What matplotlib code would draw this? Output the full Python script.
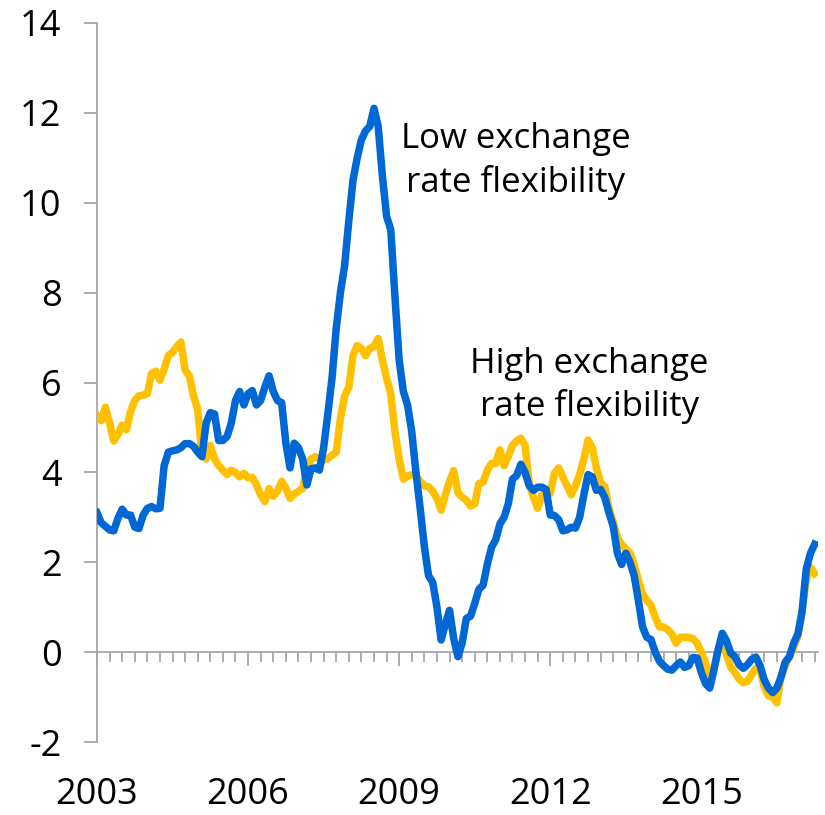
import matplotlib.pyplot as plt
import numpy as np

plt.rcParams['font.family'] = ['Open Sans', 'DejaVu Sans']
plt.rcParams['axes.unicode_minus'] = False

# Monthly data, Jan 2003 onwards
start_year = 2003

low_flex = [
    3.10, 2.88, 2.80, 2.72, 2.70, 2.98, 3.18, 3.05, 3.05, 2.78, 2.75, 3.05,
    3.20, 3.24, 3.19, 3.20, 4.15, 4.45, 4.48, 4.50, 4.55, 4.64, 4.64, 4.58,
    4.45, 4.35, 5.10, 5.33, 5.30, 4.71, 4.71, 4.80, 5.10, 5.60, 5.80, 5.50,
    5.75, 5.82, 5.50, 5.60, 5.90, 6.15, 5.80, 5.60, 5.55, 4.65, 4.10, 4.65,
    4.55, 4.30, 3.72, 4.08, 4.10, 4.05, 4.55, 5.30, 6.10, 7.20, 8.00, 8.60,
    9.60, 10.50, 11.00, 11.40, 11.60, 11.70, 12.10, 11.70, 10.60, 9.70, 9.40, 7.90,
    6.50, 5.80, 5.50, 4.90, 4.00, 3.20, 2.35, 1.70, 1.55, 1.00, 0.27, 0.62,
    0.93, 0.30, -0.10, 0.20, 0.75, 0.80, 1.08, 1.40, 1.49, 1.95, 2.33, 2.50,
    2.85, 3.00, 3.30, 3.85, 3.93, 4.18, 4.00, 3.70, 3.60, 3.67, 3.67, 3.62,
    3.05, 3.04, 2.95, 2.70, 2.72, 2.78, 2.76, 3.00, 3.50, 3.95, 3.90, 3.60,
    3.62, 3.44, 3.10, 2.80, 2.20, 1.95, 2.20, 2.00, 1.70, 1.15, 0.56, 0.33,
    0.28, 0.00, -0.20, -0.30, -0.38, -0.40, -0.30, -0.22, -0.34, -0.30, -0.12, -0.13,
    -0.45, -0.70, -0.80, -0.40, 0.05, 0.42, 0.25, -0.02, -0.10, -0.28, -0.36, -0.28,
    -0.16, -0.11, -0.30, -0.62, -0.80, -0.90, -0.80, -0.55, -0.22, -0.10, 0.20, 0.40,
    0.90, 1.85, 2.20, 2.40,
]

high_flex = [
    5.27, 5.15, 5.45, 5.10, 4.70, 4.85, 5.05, 4.95, 5.35, 5.60, 5.70, 5.72,
    5.75, 6.20, 6.25, 6.05, 6.30, 6.60, 6.67, 6.80, 6.90, 6.27, 6.15, 5.70,
    5.40, 4.40, 4.30, 4.60, 4.30, 4.15, 4.05, 3.95, 4.05, 4.00, 3.90, 3.98,
    3.88, 3.89, 3.72, 3.50, 3.35, 3.64, 3.47, 3.58, 3.80, 3.65, 3.42, 3.52,
    3.58, 3.64, 4.10, 4.30, 4.35, 4.30, 4.27, 4.31, 4.38, 4.45, 5.20, 5.70,
    5.90, 6.60, 6.82, 6.76, 6.60, 6.76, 6.80, 6.98, 6.50, 6.10, 5.75, 4.90,
    4.30, 3.85, 3.92, 3.95, 3.93, 3.80, 3.70, 3.68, 3.58, 3.42, 3.16, 3.50,
    3.80, 4.04, 3.55, 3.45, 3.38, 3.25, 3.30, 3.75, 3.78, 4.05, 4.20, 4.20,
    4.50, 4.15, 4.35, 4.60, 4.70, 4.76, 4.60, 3.75, 3.44, 3.20, 3.50, 3.55,
    3.53, 3.98, 4.10, 3.90, 3.70, 3.50, 3.70, 3.95, 4.30, 4.72, 4.55, 4.10,
    3.78, 3.68, 3.20, 2.90, 2.55, 2.40, 2.30, 2.20, 1.95, 1.60, 1.30, 1.15,
    1.05, 0.78, 0.56, 0.56, 0.50, 0.40, 0.20, 0.33, 0.33, 0.33, 0.30, 0.20,
    0.00, -0.24, -0.56, -0.35, 0.05, 0.27, -0.05, -0.33, -0.45, -0.60, -0.68, -0.65,
    -0.50, -0.36, -0.40, -0.78, -0.97, -1.00, -1.13, -0.55, -0.30, -0.10, 0.10, 0.35,
    0.90, 1.60, 1.89, 1.75,
]

year_labels = [2003, 2006, 2009, 2012, 2015]
y_ticks = [-2, 0, 2, 4, 6, 8, 10, 12, 14]

x = start_year + np.arange(len(low_flex)) / 12
x_end = start_year + 171.8 / 12

gray = '#A6A6A6'
yellow = '#FFC000'
blue = '#0068D4'

fig = plt.figure(figsize=(8.25, 8.15), dpi=100)
ax = fig.add_axes([97 / 825, 73 / 815, 721 / 825, 719 / 815])

ax.plot(x, high_flex, color=yellow, lw=5.4, solid_joinstyle='round', zorder=3)
ax.plot(x, low_flex, color=blue, lw=5.4, solid_joinstyle='round', zorder=4)

ax.set_xlim(start_year, x_end)
ax.set_ylim(-2, 14)
ax.set_yticks(y_ticks)

for s in ['top', 'right']:
    ax.spines[s].set_visible(False)
ax.spines['left'].set_color(gray)
ax.spines['left'].set_linewidth(1.3)
ax.spines['bottom'].set_position(('data', 0))
ax.spines['bottom'].set_color(gray)
ax.spines['bottom'].set_linewidth(1.3)

ax.tick_params(axis='y', direction='out', length=9.5, width=1.3, color=gray,
               labelsize=26, pad=16)
ax.set_xticks(year_labels)
ax.set_xticks(np.arange(start_year, x_end, 0.25), minor=True)
ax.tick_params(axis='x', which='major', direction='out', length=10, width=1.3,
               color=gray, labelbottom=False)
ax.tick_params(axis='x', which='minor', direction='out', length=7, width=1.3,
               color=gray)

sec = ax.secondary_xaxis('bottom')
sec.set_xticks(year_labels)
sec.spines['bottom'].set_visible(False)
sec.tick_params(length=0, labelsize=26, pad=25)

ax.text(2011.31, 10.93, 'Low exchange\nrate flexibility', ha='center', va='center',
        fontsize=25, linespacing=1.3, zorder=5)
ax.text(2012.78, 5.93, 'High exchange\nrate flexibility', ha='center', va='center',
        fontsize=25, linespacing=1.3, zorder=5)

fig.savefig('out.png', dpi=100)
